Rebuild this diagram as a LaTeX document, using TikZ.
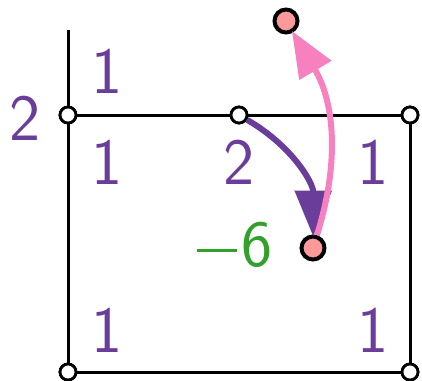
\documentclass[tikz,border=0pt]{standalone}
\usetikzlibrary{arrows.meta}
\definecolor{lblpurple}{HTML}{6A3D9A}
\definecolor{lblgreen}{HTML}{33A02C}
\definecolor{arrpink}{HTML}{F781BF}
\definecolor{nodepink}{HTML}{FB9A99}
\begin{document}
\begin{tikzpicture}[x=1pt,y=-1pt,
  edge/.style={line width=3pt,black},
  vtx/.style={circle,draw=black,fill=white,line width=2.8pt,minimum size=16pt,inner sep=0pt},
  pnode/.style={circle,draw=black,fill=nodepink,line width=4pt,minimum size=23pt,inner sep=0pt},
  lbl/.style={text=lblpurple,font=\sffamily\fontsize{66}{66}\selectfont,inner sep=0pt},
  glbl/.style={text=lblgreen,font=\sffamily\fontsize{66}{66}\selectfont,inner sep=0pt},
  parr/.style={line width=6pt,lblpurple,-{Triangle[length=46pt,width=36pt]},shorten >=-2pt},
  karr/.style={line width=6pt,arrpink,-{Triangle[length=46pt,width=36pt]},shorten >=-2pt}]
\useasboundingbox (0,0) rectangle (422,380);
\coordinate (top) at (68,30);
\node[vtx] (a) at (68,115) {};
\node[vtx] (b) at (239,115) {};
\node[vtx] (c) at (410,115) {};
\node[vtx] (d) at (68,372) {};
\node[vtx] (e) at (410,372) {};
\draw[edge] (top) -- (a.north);
\draw[edge] (a) -- (d);
\draw[edge] (a) -- (b);
\draw[edge] (b) -- (c);
\draw[edge] (c) -- (e);
\draw[edge] (d) -- (e);
\node[vtx] at (a) {};
\node[vtx] at (b) {};
\node[vtx] at (c) {};
\node[vtx] at (d) {};
\node[vtx] at (e) {};
\node[pnode] (p) at (313,248) {};
\node[pnode] (q) at (286,21) {};
\draw[parr] (b) to[bend left=30] (p);
\draw[karr] (p) to[bend right=24] (q);
\node[lbl] at (25,118) {2};
\node[lbl] at (107,71) {1};
\node[lbl] at (107,162) {1};
\node[lbl] at (239,162) {2};
\node[lbl] at (373,162) {1};
\node[lbl] at (107,330) {1};
\node[lbl] at (373,330) {1};
\node[glbl] at (235,245) {\rule[15pt]{40pt}{2.8pt}\kern4pt 6};
\end{tikzpicture}
\end{document}
